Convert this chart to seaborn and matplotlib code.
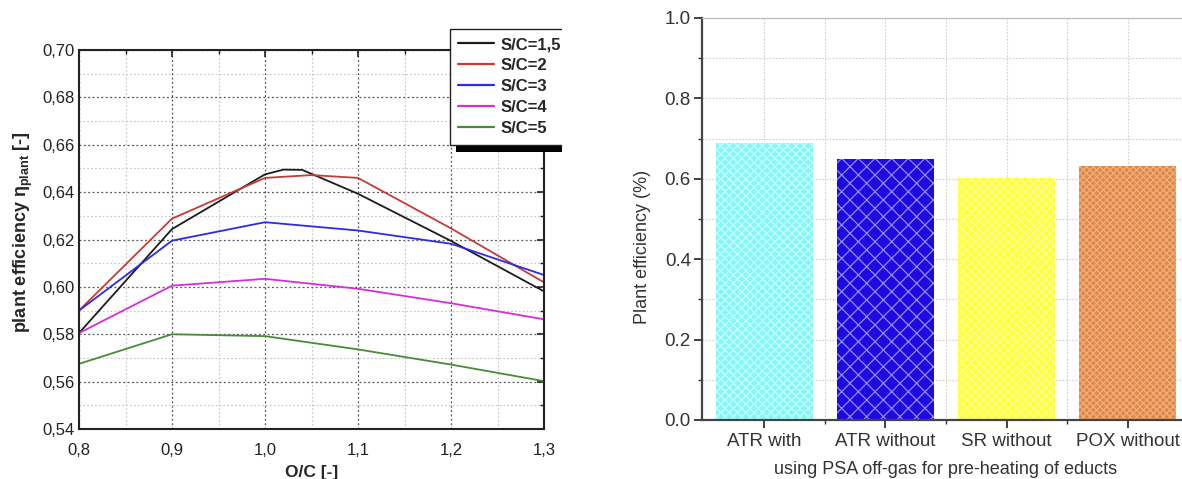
import matplotlib
matplotlib.use("Agg")
import matplotlib.pyplot as plt
import numpy as np
import pandas as pd
import seaborn as sns
from matplotlib.patches import Rectangle
from matplotlib.transforms import IdentityTransform
from matplotlib.ticker import MultipleLocator, FixedLocator, FuncFormatter

# Plant efficiency over O/C for each steam-to-carbon ratio
oc_sc15 = [0.80, 0.90, 1.00, 1.02, 1.04, 1.10, 1.20, 1.30]
eta_sc15 = [0.5805, 0.6244, 0.6475, 0.6495, 0.6494, 0.6393, 0.6194, 0.5981]
oc_sc2 = [0.80, 0.90, 1.00, 1.05, 1.10, 1.20, 1.30]
eta_sc2 = [0.5900, 0.6288, 0.6460, 0.6472, 0.6460, 0.6247, 0.6019]
oc_base = [0.80, 0.90, 1.00, 1.10, 1.20, 1.30]
eta_sc3 = [0.5900, 0.6195, 0.6273, 0.6238, 0.6182, 0.6050]
eta_sc4 = [0.5805, 0.6005, 0.6034, 0.5992, 0.5931, 0.5863]
eta_sc5 = [0.5675, 0.5800, 0.5792, 0.5736, 0.5672, 0.5602]
series_names = ["S/C=1,5", "S/C=2", "S/C=3", "S/C=4", "S/C=5"]
series_colors = ["#1c1c1c", "#c63b36", "#2b2be8", "#d62ed6", "#4b8a38"]

# Plant efficiency per process variant
process_names = ["ATR with", "ATR without", "SR without", "POX without"]
process_eff = [0.690, 0.649, 0.603, 0.633]
process_colors = ["#84f6f6", "#1e0ae0", "#ffff3a", "#df8748"]
hatch_colors = ["#c8ffff", "#8f8cff", "#fcfc9a", "#f2ae7c"]
hatch_styles = ["xxxx", "xx", "xxxx", "xxxxx"]

sns.set_style("white")
plt.rcParams["font.family"] = ["Liberation Sans", "DejaVu Sans"]
plt.rcParams["mathtext.fontset"] = "custom"
plt.rcParams["mathtext.rm"] = "Liberation Sans"
plt.rcParams["mathtext.bf"] = "Liberation Sans:bold"
plt.rcParams["hatch.linewidth"] = 0.9

lines = pd.concat([
    pd.DataFrame({"oc": oc_sc15, "eta": eta_sc15, "series": series_names[0]}),
    pd.DataFrame({"oc": oc_sc2, "eta": eta_sc2, "series": series_names[1]}),
    pd.DataFrame({"oc": oc_base, "eta": eta_sc3, "series": series_names[2]}),
    pd.DataFrame({"oc": oc_base, "eta": eta_sc4, "series": series_names[3]}),
    pd.DataFrame({"oc": oc_base, "eta": eta_sc5, "series": series_names[4]}),
], ignore_index=True)

W, H = 1182, 479
fig = plt.figure(figsize=(W / 100, H / 100), dpi=100)
fig.patch.set_facecolor("white")

# ---- left: line chart ----
ax1 = fig.add_axes([79 / W, 1 - 429 / H, 465 / W, 379 / H])
sns.lineplot(data=lines, x="oc", y="eta", hue="series", hue_order=series_names,
             palette=dict(zip(series_names, series_colors)), estimator=None,
             sort=True, linewidth=1.3, ax=ax1)
ax1.set_xlim(0.8, 1.3)
ax1.set_ylim(0.54, 0.70)
ax1.xaxis.set_major_locator(MultipleLocator(0.1))
ax1.xaxis.set_minor_locator(MultipleLocator(0.05))
ax1.yaxis.set_major_locator(MultipleLocator(0.02))
ax1.yaxis.set_minor_locator(MultipleLocator(0.01))
ax1.xaxis.set_major_formatter(FuncFormatter(lambda v, p: f"{v:.1f}".replace(".", ",")))
ax1.yaxis.set_major_formatter(FuncFormatter(lambda v, p: f"{v:.2f}".replace(".", ",")))
ax1.grid(which="major", linestyle=(0, (1.5, 2)), color="#555555", linewidth=0.9)
ax1.grid(which="minor", linestyle=(0, (1.5, 2)), color="#c4c4c4", linewidth=0.8)
ax1.set_axisbelow(True)
ax1.tick_params(which="both", direction="in", top=True, right=True,
                labelsize=12, colors="#222222")
ax1.tick_params(axis="x", which="major", pad=10)
ax1.tick_params(axis="y", which="major", pad=3)
ax1.tick_params(which="major", length=5, width=1.2)
ax1.tick_params(which="minor", length=3, width=1.0)
for s in ax1.spines.values():
    s.set_color("#222222")
    s.set_linewidth(1.5)
ax1.set_xlabel("O/C [-]", fontsize=12.5, fontweight="bold", labelpad=5)
ax1.set_ylabel(r"plant efficiency η$_{\mathbf{plant}}$ [-]", fontsize=13,
               fontweight="bold")
ax1.yaxis.set_label_coords(-0.094, 0.52)

handles, labels = ax1.get_legend_handles_labels()
leg = ax1.legend(handles, labels, loc="upper left",
                 bbox_to_anchor=(450 / W, 1 - 29 / H), bbox_transform=fig.transFigure,
                 borderaxespad=0, frameon=True, fancybox=False,
                 edgecolor="#222222", framealpha=1,
                 prop={"weight": "bold", "size": 12}, handlelength=2.15,
                 handletextpad=0.38, borderpad=0.5, labelspacing=0.36)
leg.get_frame().set_linewidth(1.0)
leg.set_zorder(6)
for ln in leg.get_lines():
    ln.set_linewidth(1.6)

# solid drop shadow under the legend box
fig.canvas.draw()
bb = leg.get_window_extent()
ax1.add_artist(Rectangle((bb.x0 + 6, bb.y0 - 7), bb.width, bb.height,
                         transform=IdentityTransform(), facecolor="black",
                         edgecolor="none", clip_on=False, zorder=5.5))

# ---- right: bar chart ----
ax2 = fig.add_axes([702 / W, 1 - 420 / H, 488 / W, 402 / H])
sns.barplot(x=process_names, y=process_eff, hue=process_names,
            palette=dict(zip(process_names, process_colors)), legend=False,
            saturation=1, width=0.8, ax=ax2)
for patch, hatch, hc in zip(ax2.patches, hatch_styles, hatch_colors):
    patch.set_hatch(hatch)
    patch.set_edgecolor(hc)
    patch.set_linewidth(0)
ax2.set_xlim(-0.513, 3.513)
ax2.set_ylim(0, 1.0)
ax2.yaxis.set_major_locator(MultipleLocator(0.2))
ax2.yaxis.set_minor_locator(MultipleLocator(0.1))
ax2.xaxis.set_minor_locator(FixedLocator([0.5, 1.5, 2.5]))
ax2.yaxis.set_major_formatter(FuncFormatter(lambda v, p: f"{v:.1f}"))
ax2.grid(which="both", linestyle=(0, (1.5, 1.5)), color="#cfcfcf", linewidth=0.8)
ax2.set_axisbelow(True)
ax2.tick_params(which="both", direction="out", labelsize=13.5, colors="#333333")
ax2.tick_params(which="major", length=6, width=1.3, bottom=True, left=True)
ax2.tick_params(which="minor", length=3, width=1.0, bottom=True, left=True)
ax2.tick_params(axis="x", which="major", pad=3)
ax2.tick_params(axis="y", which="major", pad=2)
for side in ("left", "bottom"):
    ax2.spines[side].set_color("#444444")
    ax2.spines[side].set_linewidth(1.6)
ax2.spines["top"].set_color("#bbbbbb")
ax2.spines["top"].set_linewidth(0.9)
ax2.spines["right"].set_visible(False)
ax2.set_ylabel("Plant efficiency (%)", fontsize=13, color="#333333")
ax2.yaxis.set_label_coords(-0.105, 0.43)
ax2.set_xlabel("using PSA off-gas for pre-heating of educts", fontsize=13,
               color="#333333", labelpad=8)

# the left panel ends here; anything drawn past it is trimmed away
fig.add_artist(Rectangle((562 / W, 0), 40 / W, 1, transform=fig.transFigure,
                         facecolor="white", edgecolor="none", zorder=10))

fig.savefig("out.png", dpi=100, facecolor="white")
